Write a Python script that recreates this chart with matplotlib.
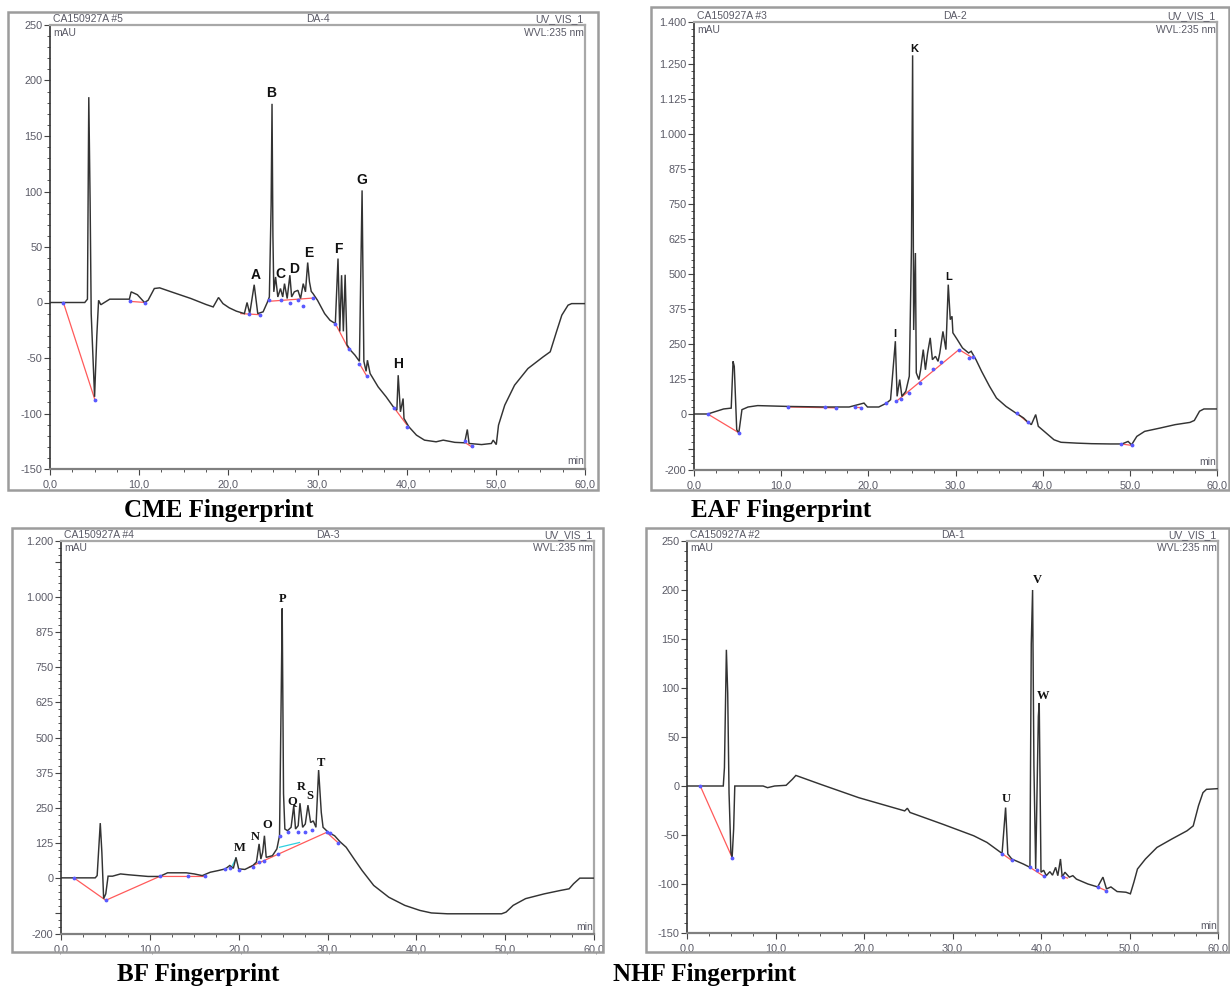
import matplotlib
matplotlib.use('Agg')
import matplotlib.pyplot as plt
from matplotlib.patches import Rectangle
from matplotlib.ticker import MultipleLocator

plt.rcParams['font.family'] = ['Liberation Sans', 'DejaVu Sans']

# ---------------- data ----------------
x_ticks = [0, 10, 20, 30, 40, 50, 60]
x_labels = ['0,0', '10,0', '20,0', '30,0', '40,0', '50,0', '60,0']

# CME
cme_t = [0, 3.9, 4.2, 4.35, 4.5, 4.62, 5.0, 5.25, 5.45, 5.7,
         6.7, 8.9, 9.1, 9.8, 10.6, 11.0, 11.7, 12.3, 13.6, 15.8,
         17.5, 18.3, 18.9, 19.4, 20.1, 20.9, 21.8, 22.1, 22.4, 22.9,
         23.3, 23.9, 24.4, 24.6, 24.8, 24.9, 25.0, 25.1, 25.3, 25.55,
         25.85, 26.1, 26.3, 26.6, 26.9, 27.1, 27.4, 27.8, 28.1, 28.4,
         28.65, 28.9, 29.1, 29.3, 29.5, 30.0, 30.8, 31.4, 32.0, 32.3,
         32.5, 32.7, 32.9, 33.1, 33.3, 33.7, 34.2, 34.7, 35.0, 35.2,
         35.45, 35.6, 35.9, 36.8, 37.7, 38.5, 38.9, 39.05, 39.3, 39.6,
         39.7, 40.25, 41.1, 42.0, 43.3, 44.1, 45.4, 46.5, 46.8, 47.0,
         48.4, 49.5, 49.7, 50.05, 50.3, 51.0, 52.1, 53.6, 55.3, 56.1,
         56.8, 57.4, 58.1, 58.5, 60]
cme_v = [0, 0, 3, 185, 90, -10, -85, -30, 2, -2,
         3, 3, 9.6, 7, 0, 2, 12.6, 13.2, 9.6, 3.6,
         -1.8, -4, 4.5, -1, -4.8, -7.8, -10, 0, -10, 16,
         -10, -8.4, 0.6, 5, 88, 179, 60, 9.6, 23, 5,
         12.6, 5, 17, 3.6, 24.6, 5, 9.6, 11, 3.6, 17,
         9.6, 36, 18.6, 10, 8, 2, -10, -16, -19, 39.6,
         -26, 24.6, -26, 25, -38, -43, -47.4, -53, 101, -53,
         -62, -52, -64, -76, -85, -94, -97, -65.5, -98.5, -86.5,
         -104.5, -112, -119.5, -124, -125.5, -124, -126, -126.4, -114.4, -127,
         -128, -127, -124, -128, -110.5, -92.5, -74.5, -59.5, -49, -44.4,
         -26.4, -11.4, -2.4, -1, -1]
cme_base_t = [[1.5, 5.05], [9.0, 10.7], [21.4, 23.6], [24.4, 29.5], [32.0, 33.5], [34.7, 35.5], [38.6, 40.0], [46.5, 47.3]]
cme_base_v = [[0, -88], [1, 0], [-10, -11], [1, 4], [-19, -42], [-55, -66], [-95, -110], [-126, -130]]
cme_mark_t = [1.5, 5.05, 9.0, 10.7, 22.3, 23.6, 24.6, 25.9, 26.9, 27.8, 28.4, 29.5, 32.0, 33.5, 34.7, 35.5, 38.6, 40.0, 46.5, 47.3]
cme_mark_v = [0, -88, 1, 0, -10, -11, 2, 2, 0, 2, -3, 4, -19, -42, -55, -66, -95, -112, -125, -129]
cme_lab = ['A', 'B', 'C', 'D', 'E', 'F', 'G', 'H']
cme_lab_t = [23.07, 24.8, 25.86, 27.36, 29.0, 32.3, 35.0, 39.0]
cme_lab_v = [24.6, 189, 25.8, 30, 45, 48.6, 110.8, -55.6]
cme_yticks = [-150, -100, -50, 0, 50, 100, 150, 200, 250]
cme_ylabels = ['-150', '-100', '-50', '0', '50', '100', '150', '200', '250']

# EAF
eaf_t = [0, 1.57, 3.4, 4.27, 4.48, 4.62, 4.9, 5.14, 5.5, 6.2,
         7.3, 10.8, 15.1, 17.8, 19.5, 19.9, 21.2, 22.1, 22.55, 23.1,
         23.3, 23.6, 23.85, 24.3, 24.7, 24.95, 25.08, 25.2, 25.4, 25.5,
         25.8, 26.0, 26.3, 26.55, 26.8, 27.1, 27.35, 27.7, 28.0, 28.2,
         28.56, 28.9, 29.17, 29.4, 29.6, 29.7, 30.2, 30.8, 31.5, 31.8,
         32.35, 33.0, 33.9, 34.7, 35.8, 36.9, 37.8, 38.2, 38.7, 39.2,
         39.5, 40.4, 41.3, 42.1, 43.9, 45.6, 47.8, 49.1, 49.8, 50.2,
         50.8, 51.7, 53.5, 55.2, 56.9, 57.4, 58.0, 58.5, 60]
eaf_v = [0, 0, 18, 21, 188, 170, -56, -68, 15.5, 25,
         30, 27, 25, 25, 39, 25, 25, 39, 51, 260,
         63, 123, 63, 81, 135, 600, 1281, 300, 575, 147,
         123, 158, 230, 158, 218, 272, 194, 206, 188, 218,
         295, 230, 462, 337, 349, 290, 266, 236, 218, 224,
         194, 152, 99, 57, 27, 4, -14, -26, -38, -2,
         -44, -68, -92, -101, -104, -106, -107, -107, -98, -110,
         -80, -62, -50, -38, -30, -23, 10, 18, 18]
eaf_base_t = [[1.57, 5.2], [10.8, 16.3], [18.5, 19.2], [23.4, 30.4, 32.0], [37.0, 38.3], [49.0, 50.2]]
eaf_base_v = [[0, -68], [25, 22], [25, 25], [50, 230, 200], [4, -30], [-107, -112]]
eaf_mark_t = [1.57, 5.2, 10.8, 15.0, 16.3, 18.5, 19.2, 22.0, 23.2, 23.8, 24.7, 25.9, 27.4, 28.3, 30.4, 31.5, 32.0, 37.0, 38.3, 49.0, 50.2]
eaf_mark_v = [0, -68, 25, 25, 20, 25, 22, 38, 45, 55, 75, 110, 160, 185, 230, 200, 205, 4, -30, -107, -112]
eaf_lab = ['I', 'K', 'L']
eaf_lab_t = [23.07, 25.3, 29.17]
eaf_lab_v = [287, 1305, 488]
eaf_yticks = [-200, -125, 0, 125, 250, 375, 500, 625, 750, 875, 1000, 1125, 1250, 1400]
eaf_ylabels = ['-200', '', '0', '125', '250', '375', '500', '625', '750', '875', '1.000', '1.125', '1.250', '1.400']

# BF
bf_t = [0, 1.45, 3.85, 4.07, 4.42, 4.6, 4.8, 5.04, 5.3, 5.8,
        6.7, 7.6, 9.8, 11.1, 12.0, 14.1, 15.0, 15.9, 16.8, 17.7,
        18.5, 19.0, 19.4, 19.7, 20.0, 20.7, 21.6, 22.0, 22.3, 22.5,
        22.7, 22.9, 23.1, 23.8, 24.3, 24.6, 24.8, 24.9, 25.05, 25.2,
        25.5, 25.9, 26.2, 26.4, 26.7, 26.9, 27.2, 27.5, 27.8, 28.1,
        28.4, 28.7, 29.0, 29.3, 29.5, 30.1, 30.8, 31.4, 32.1, 33.0,
        33.9, 35.2, 36.9, 38.7, 40.4, 41.7, 43.5, 45.7, 47.9, 49.6,
        50.1, 50.9, 52.3, 54.4, 56.2, 57.2, 57.7, 58.4, 60]
bf_v = [0, 0, 0, 8, 195, 91, -74, -57, 6, 6,
        14, 11, 5, 5, 18, 18, 14, 8, 20, 26,
        32, 44, 34, 73, 32, 30, 44, 56, 121, 67,
        91, 150, 73, 79, 103, 150, 682, 960, 300, 174,
        168, 180, 257, 174, 186, 266, 180, 192, 259, 197,
        203, 180, 384, 233, 180, 162, 150, 129, 109, 67,
        26, -27, -69, -98, -116, -125, -128, -128, -128, -128,
        -122, -98, -74, -57, -45, -39, -21, -1, -1]
bf_base_t = [[1.45, 5.04, 11.1, 16.2], [21.2, 29.9, 31.2]]
bf_base_v = [[0, -80, 5, 5], [38, 162, 125]]
bf_cyan_t = [[24.6, 26.85], [19.2, 19.7]]
bf_cyan_v = [[109, 126], [38, 70]]
bf_mark_t = [1.45, 5.04, 11.1, 14.3, 16.2, 18.5, 19.0, 20.0, 21.6, 22.3, 22.9, 24.4, 24.6, 25.5, 26.7, 27.5, 28.3, 29.9, 30.3, 31.2]
bf_mark_v = [0, -80, 5, 8, 5, 30, 35, 28, 40, 55, 60, 85, 150, 165, 165, 165, 170, 165, 160, 125]
bf_lab = ['M', 'N', 'O', 'P', 'Q', 'R', 'S', 'T']
bf_lab_t = [20.15, 21.9, 23.2, 24.97, 26.06, 27.07, 28.03, 29.26]
bf_lab_v = [105, 144, 189, 993, 274, 322, 292, 410]
bf_yticks = [-200, -125, 0, 125, 250, 375, 500, 625, 750, 875, 1000, 1125, 1200]
bf_ylabels = ['-200', '', '0', '125', '250', '375', '500', '625', '750', '875', '1.000', '', '1.200']

# NHF
nhf_t = [0, 1.5, 4.1, 4.23, 4.45, 4.6, 4.75, 4.96, 5.1, 5.27,
         5.4, 6.5, 8.6, 9.1, 9.9, 11.2, 11.9, 12.3, 15.1, 19.4,
         24.6, 24.9, 25.2, 28.9, 32.4, 33.9, 35.6, 36.0, 36.25, 36.7,
         38.0, 38.75, 38.9, 39.05, 39.2, 39.4, 39.7, 39.8, 40.0, 40.3,
         40.6, 41.0, 41.3, 41.65, 41.9, 42.2, 42.4, 42.7, 43.2, 43.6,
         44.0, 45.3, 46.4, 47.0, 47.4, 47.9, 48.6, 49.6, 50.1, 50.5,
         50.9, 51.8, 53.1, 54.8, 56.5, 57.2, 57.8, 58.3, 58.7, 60]
nhf_v = [0, 0, 0, 18.6, 139, 95, -7, -68, -73, -44,
         0, 0, 0, -1.7, 0, 0.7, 6.8, 10.8, 1.7, -11.9,
         -25.4, -22.7, -27, -39, -50.8, -57.6, -68.8, -22, -69.4, -74.5,
         -79.6, -83, 145, 200, 20, -84.7, 71, 84.7, -88, -86,
         -91.5, -87.4, -91, -83, -91.5, -74.5, -93, -88, -93, -91.5,
         -95, -100, -103, -93, -105, -103, -107.7, -108.4, -110, -98,
         -84.7, -74.5, -62.7, -54, -45.7, -40.7, -20, -6.8, -3.4, -2.7]
nhf_base_t = [[1.5, 5.1], [35.6, 36.7], [38.75, 40.3], [42.3, 43.0], [46.4, 47.4]]
nhf_base_v = [[0, -73], [-69, -76], [-83, -92], [-92, -94], [-103, -107]]
nhf_mark_t = [1.5, 5.1, 35.6, 36.7, 38.75, 39.5, 40.3, 42.5, 46.4, 47.4]
nhf_mark_v = [0, -73, -69, -76, -83, -86, -92, -93, -103, -107]
nhf_lab = ['U', 'V', 'W']
nhf_lab_t = [36.04, 39.6, 40.27]
nhf_lab_v = [-13.5, 210, 91.5]
nhf_yticks = [-150, -100, -50, 0, 50, 100, 150, 200, 250]
nhf_ylabels = ['-150', '-100', '-50', '0', '50', '100', '150', '200', '250']

captions = ['CME Fingerprint', 'EAF Fingerprint', 'BF Fingerprint', 'NHF Fingerprint']

# ---------------- drawing ----------------
W, H = 1230, 989
fig = plt.figure(figsize=(W / 100, H / 100), dpi=100)
fig.patch.set_facecolor('white')


def frame_px(l, t, r, b):
    fig.patches.append(Rectangle((l / W, 1 - b / H), (r - l) / W, (b - t) / H,
                                 transform=fig.transFigure, fill=False,
                                 ec='#9c9c9c', lw=1.8))


def axes_px(l, t, r, b):
    return fig.add_axes([l / W, 1 - b / H, (r - l) / W, (b - t) / H])


def panel(ax, t, v, ylim, yticks, ylabels, minor, header, mid, base_t, base_v,
          mark_t, mark_v, lab, lab_t, lab_v, lab_font, lab_size, cyan=None):
    ax.plot(t, v, color='#333333', lw=1.05, zorder=3, solid_joinstyle='miter')
    for bt, bv in zip(base_t, base_v):
        ax.plot(bt, bv, color='#ff5a5a', lw=0.9, zorder=2)
    if cyan is not None:
        for bt, bv in zip(cyan[0], cyan[1]):
            ax.plot(bt, bv, color='#30d0e0', lw=0.9, zorder=2)
    ax.plot(mark_t, mark_v, ls='none', marker='.', ms=3.5, color='#5a5aff', zorder=4)
    ax.set_xlim(0, 60)
    ax.set_ylim(*ylim)
    ax.set_xticks(x_ticks)
    ax.set_xticklabels(x_labels)
    ax.xaxis.set_minor_locator(MultipleLocator(2.5))
    ax.set_yticks(yticks)
    ax.set_yticklabels(ylabels)
    ax.yaxis.set_minor_locator(MultipleLocator(minor))
    ax.tick_params(axis='both', which='major', labelsize=7.8, labelcolor='#5a5a66',
                   color='#444444', length=4, width=0.8, pad=1.5)
    ax.tick_params(axis='x', which='major', pad=3.5)
    ax.tick_params(axis='both', which='minor', length=2, width=0.7, color='#555555')
    ax.spines['left'].set_color('#333333')
    ax.spines['left'].set_linewidth(1.2)
    ax.spines['bottom'].set_color('#808080')
    ax.spines['bottom'].set_linewidth(1.6)
    for s in ('top', 'right'):
        ax.spines[s].set_color('#a8a8a8')
        ax.spines[s].set_linewidth(1.6)
    tc = '#5a5a66'
    fs = 7.5
    ax.text(0.005, 1.003, header, transform=ax.transAxes, ha='left', va='bottom', fontsize=fs, color=tc)
    ax.text(0.5, 1.003, mid, transform=ax.transAxes, ha='center', va='bottom', fontsize=fs, color=tc)
    ax.text(0.998, 1.003, 'UV_VIS_1', transform=ax.transAxes, ha='right', va='bottom', fontsize=fs, color=tc)
    ax.text(0.006, 0.994, 'mAU', transform=ax.transAxes, ha='left', va='top', fontsize=fs, color=tc)
    ax.text(0.998, 0.994, 'WVL:235 nm', transform=ax.transAxes, ha='right', va='top', fontsize=fs, color=tc)
    ax.text(0.998, 0.006, 'min', transform=ax.transAxes, ha='right', va='bottom', fontsize=fs, color=tc)
    for s, lt, lv in zip(lab, lab_t, lab_v):
        ax.text(lt, lv, s, ha='center', va='center', fontsize=lab_size,
                fontweight='bold', family=lab_font, color='#111111', zorder=5)


# frames
frame_px(8, 12, 598, 490)
frame_px(651, 7, 1229, 490)
frame_px(12, 528, 603, 952)
frame_px(646, 528, 1229, 952)

ax1 = axes_px(50, 25, 585, 469)
panel(ax1, cme_t, cme_v, (-150, 250), cme_yticks, cme_ylabels, 10, 'CA150927A #5', 'DA-4',
      cme_base_t, cme_base_v, cme_mark_t, cme_mark_v, cme_lab, cme_lab_t, cme_lab_v,
      'Liberation Sans', 10)

ax2 = axes_px(694, 22, 1217, 470)
panel(ax2, eaf_t, eaf_v, (-200, 1400), eaf_yticks, eaf_ylabels, 25, 'CA150927A #3', 'DA-2',
      eaf_base_t, eaf_base_v, eaf_mark_t, eaf_mark_v, eaf_lab, eaf_lab_t, eaf_lab_v,
      'Liberation Sans', 8)

ax3 = axes_px(61, 541, 594, 934)
panel(ax3, bf_t, bf_v, (-200, 1200), bf_yticks, bf_ylabels, 25, 'CA150927A #4', 'DA-3',
      bf_base_t, bf_base_v, bf_mark_t, bf_mark_v, bf_lab, bf_lab_t, bf_lab_v,
      'Liberation Serif', 9, cyan=(bf_cyan_t, bf_cyan_v))

ax4 = axes_px(687, 541, 1218, 933)
panel(ax4, nhf_t, nhf_v, (-150, 250), nhf_yticks, nhf_ylabels, 10, 'CA150927A #2', 'DA-1',
      nhf_base_t, nhf_base_v, nhf_mark_t, nhf_mark_v, nhf_lab, nhf_lab_t, nhf_lab_v,
      'Liberation Serif', 9)

cap_xy = [(219, 511), (781, 511), (198, 974), (705, 974)]
for c, (cx, cy) in zip(captions, cap_xy):
    fig.text(cx / W, 1 - cy / H, c, ha='center', va='center', fontsize=18,
             fontweight='bold', family='Liberation Serif', color='black')

fig.savefig('out.png', dpi=100, facecolor='white')
